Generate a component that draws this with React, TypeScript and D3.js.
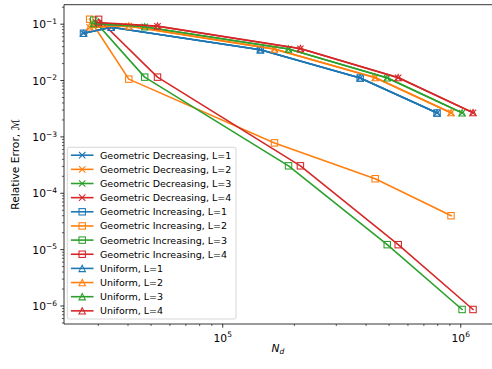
import React from "react";
import * as d3 from "d3";

// N_d values per level L
const nL1 = [26000, 34000, 144000, 378000, 795000];
const nL2 = [27600, 40300, 165000, 437000, 910000];
const nL3 = [28700, 47000, 189000, 491000, 1013000];
const nL4 = [30100, 53200, 212000, 546000, 1126000];

// Geometric Decreasing
const gdL1 = [0.069, 0.088, 0.0351, 0.0111, 0.00266];
const gdL2 = [0.088, 0.0925, 0.0361, 0.0112, 0.00267];
const gdL3 = [0.1, 0.0895, 0.0362, 0.0111, 0.00266];
const gdL4 = [0.104, 0.092, 0.0367, 0.0112, 0.00268];
// Geometric Increasing
const giL1 = [0.069, 0.088, 0.0351, 0.0111, 0.00266];
const giL2 = [0.1226, 0.0106, 0.000783, 0.000181, 0.00004];
const giL3 = [0.118, 0.0115, 0.000307, 0.00001225, 0.000000867];
const giL4 = [0.122, 0.0115, 0.000307, 0.00001225, 0.000000867];
// Uniform
const uL1 = [0.069, 0.088, 0.0351, 0.0111, 0.00266];
const uL2 = [0.09, 0.093, 0.0363, 0.0113, 0.0027];
const uL3 = [0.103, 0.09, 0.0364, 0.0112, 0.00268];
const uL4 = [0.107, 0.0925, 0.037, 0.0113, 0.0027];

const methods = ["Geometric Decreasing", "Geometric Increasing", "Uniform"];
const markerKinds = ["x", "square", "triangle"];
const levels = [1, 2, 3, 4];
const colors = ["#1f77b4", "#ff7f0e", "#2ca02c", "#d62728"];
const nByLevel = [nL1, nL2, nL3, nL4];
const valuesByMethod = [
  [gdL1, gdL2, gdL3, gdL4],
  [giL1, giL2, giL3, giL4],
  [uL1, uL2, uL3, uL4],
];
const xTickExps = [5, 6];
const yTickExps = [-6, -5, -4, -3, -2, -1];

const W = 492, H = 369;
const left = 64, right = 492.5, top = 4.7, bottom = 324;
const FONT = "DejaVu Sans, sans-serif";

type Series = { label: string; color: string; marker: string; pts: [number, number][] };

const series: Series[] = [];
methods.forEach((m, mi) => {
  levels.forEach((L, li) => {
    series.push({
      label: `${m}, L=${L}`,
      color: colors[li],
      marker: markerKinds[mi],
      pts: nByLevel[li].map((n, i) => [n, valuesByMethod[mi][li][i]] as [number, number]),
    });
  });
});

function logDomain(vals: number[]): [number, number] {
  const lo = Math.log10(d3.min(vals)!);
  const hi = Math.log10(d3.max(vals)!);
  const m = (hi - lo) * 0.05;
  return [Math.pow(10, lo - m), Math.pow(10, hi + m)];
}

const allX = series.flatMap((s) => s.pts.map((p) => p[0]));
const allY = series.flatMap((s) => s.pts.map((p) => p[1]));
const x = d3.scaleLog().domain(logDomain(allX)).range([left, right]);
const y = d3.scaleLog().domain(logDomain(allY)).range([bottom, top]);

const MS = 6.4;
const MEW = 1.07;
const LW = 1.6;

function Marker({ kind, cx, cy, color }: { kind: string; cx: number; cy: number; color: string }) {
  const h = MS / 2;
  if (kind === "x") {
    return (
      <path
        d={`M${cx - h},${cy - h}L${cx + h},${cy + h}M${cx - h},${cy + h}L${cx + h},${cy - h}`}
        stroke={color}
        strokeWidth={MEW}
        fill="none"
      />
    );
  }
  if (kind === "square") {
    return <rect x={cx - h} y={cy - h} width={MS} height={MS} stroke={color} strokeWidth={MEW} fill="none" />;
  }
  return (
    <path
      d={`M${cx},${cy - h}L${cx + h},${cy + h}L${cx - h},${cy + h}Z`}
      stroke={color}
      strokeWidth={MEW}
      fill="none"
      strokeLinejoin="miter"
    />
  );
}

function minorTicks(scale: any): number[] {
  const [d0, d1] = scale.domain();
  const out: number[] = [];
  for (let e = Math.floor(Math.log10(d0)); e <= Math.ceil(Math.log10(d1)); e++) {
    for (let k = 2; k <= 9; k++) {
      const v = k * Math.pow(10, e);
      if (v >= d0 && v <= d1) out.push(v);
    }
  }
  return out;
}

function Pow({ exp, ...rest }: any) {
  return (
    <text {...rest} fontFamily={FONT} fontSize={10.7} fill="#000">
      10
      <tspan fontSize={7.5} dy={-4.3}>
        {exp < 0 ? `\u2212${-exp}` : `${exp}`}
      </tspan>
    </text>
  );
}

export default function App() {
  const line = d3
    .line<[number, number]>()
    .x((d) => x(d[0]))
    .y((d) => y(d[1]));

  const legX = 67.3, legY = 147.3, legW = 168.7, legH = 171.7;
  const rowY0 = 155.2, rowDy = 14.15;

  return (
    <svg width={W} height={H} style={{ position: "absolute", left: 0, top: 0 }} xmlns="http://www.w3.org/2000/svg">
      <rect x={0} y={0} width={W} height={H} fill="#fff" />
      {/* series */}
      {series.map((s, i) => (
        <g key={i}>
          <path d={line(s.pts)!} stroke={s.color} strokeWidth={LW} fill="none" strokeLinejoin="round" strokeLinecap="square" />
          {s.pts.map((p, j) => (
            <Marker key={j} kind={s.marker} cx={x(p[0])} cy={y(p[1])} color={s.color} />
          ))}
        </g>
      ))}
      {/* frame */}
      <path d={`M${left},${top}H${right}V${bottom}H${left}Z`} stroke="#000" strokeWidth={0.8} fill="none" />
      {/* x ticks */}
      {xTickExps.map((e) => {
        const v = Math.pow(10, e);
        const px = x(v);
        return (
          <g key={e}>
            <line x1={px} x2={px} y1={bottom} y2={bottom + 3.7} stroke="#000" strokeWidth={0.8} />
            <Pow exp={e} x={px} y={bottom + 17.5} textAnchor="middle" />
          </g>
        );
      })}
      {minorTicks(x).map((v, i) => (
        <line key={i} x1={x(v)} x2={x(v)} y1={bottom} y2={bottom + 2.1} stroke="#000" strokeWidth={0.6} />
      ))}
      {/* y ticks */}
      {yTickExps.map((e) => {
        const v = Math.pow(10, e);
        const py = y(v);
        return (
          <g key={e}>
            <line x1={left - 3.7} x2={left} y1={py} y2={py} stroke="#000" strokeWidth={0.8} />
            <Pow exp={e} x={57} y={py + 4} textAnchor="end" />
          </g>
        );
      })}
      {minorTicks(y).map((v, i) => (
        <line key={i} x1={left - 2.1} x2={left} y1={y(v)} y2={y(v)} stroke="#000" strokeWidth={0.6} />
      ))}
      {/* axis labels */}
      <text x={(left + right) / 2 - 0.3} y={351.5} textAnchor="middle" fontFamily={FONT} fontSize={10.7} fill="#000">
        <tspan fontStyle="italic">N</tspan>
        <tspan fontStyle="italic" fontSize={7.5} dy={2.5}>d</tspan>
      </text>
      <text
        transform={`translate(19,${(top + bottom) / 2}) rotate(-90)`}
        textAnchor="middle"
        fontFamily={FONT}
        fontSize={10.7}
        fill="#000"
      >
        Relative Error, {"\u2133"}
      </text>
      {/* legend */}
      <rect x={legX} y={legY} width={legW} height={legH} rx={2} ry={2} fill="#fff" fillOpacity={0.8} stroke="#cccccc" strokeWidth={0.8} />
      {series.map((s, i) => {
        const cy = rowY0 + i * rowDy;
        return (
          <g key={i}>
            <line x1={71.7} x2={92.7} y1={cy} y2={cy} stroke={s.color} strokeWidth={LW} strokeLinecap="square" />
            <Marker kind={s.marker} cx={82.2} cy={cy} color={s.color} />
            <text x={100} y={cy + 3.4} fontFamily={FONT} fontSize={9.5} fill="#000">
              {s.label}
            </text>
          </g>
        );
      })}
    </svg>
  );
}
